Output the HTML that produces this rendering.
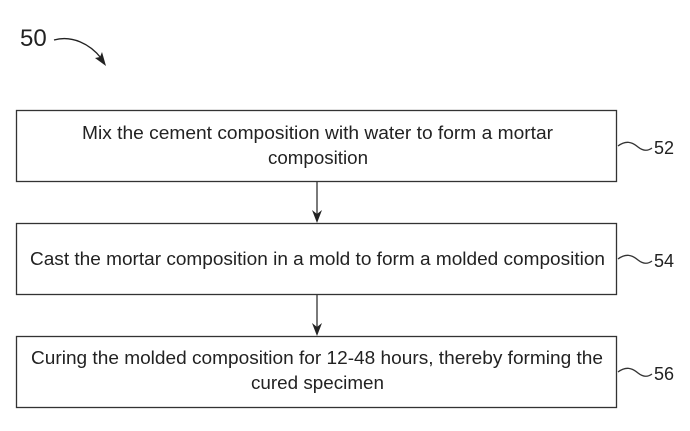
<!DOCTYPE html>
<html><head><meta charset="utf-8"><style>body{margin:0;background:#fff}svg{display:block}</style></head>
<body>
<svg width="690" height="431" viewBox="0 0 690 431" xmlns="http://www.w3.org/2000/svg" font-family="Liberation Sans, sans-serif" fill="#222">
<text x="20" y="46" font-size="24">50</text>
<path d="M54,40 C72,35 90,44 101,58" stroke="#222" stroke-width="1.3" fill="none"/>
<path d="M106,66 L95,58 L100,57 L102,52 Z" fill="#222"/>
<g stroke="#333" stroke-width="1.3" fill="none">
<rect x="16.5" y="110.5" width="600" height="71"/>
<rect x="16.5" y="223.5" width="600" height="71"/>
<rect x="16.5" y="336.5" width="600" height="71"/>
<line x1="317" y1="182" x2="317" y2="214"/>
<line x1="317" y1="295" x2="317" y2="327"/>
<path d="M618,146 c8,-6 14,-4 20,1 c5,4 10,4 14,1"/>
<path d="M618,259 c8,-6 14,-4 20,1 c5,4 10,4 14,1"/>
<path d="M618,372 c8,-6 14,-4 20,1 c5,4 10,4 14,1"/>
</g>
<path d="M312,210 L317,223 L322,210 L317,214 Z" fill="#222"/>
<path d="M312,323 L317,336 L322,323 L317,327 Z" fill="#222"/>
<g font-size="18">
<text x="82" y="139" textLength="471" lengthAdjust="spacingAndGlyphs">Mix the cement composition with water to form a mortar</text>
<text x="268" y="164" textLength="100" lengthAdjust="spacingAndGlyphs">composition</text>
<text x="30" y="265" textLength="575" lengthAdjust="spacingAndGlyphs">Cast the mortar composition in a mold to form a molded composition</text>
<text x="31" y="364" textLength="572" lengthAdjust="spacingAndGlyphs">Curing the molded composition for 12-48 hours, thereby forming the</text>
<text x="251" y="389" textLength="133" lengthAdjust="spacingAndGlyphs">cured specimen</text>
<text x="654" y="154">52</text>
<text x="654" y="267">54</text>
<text x="654" y="380">56</text>
</g>
</svg>
</body></html>
